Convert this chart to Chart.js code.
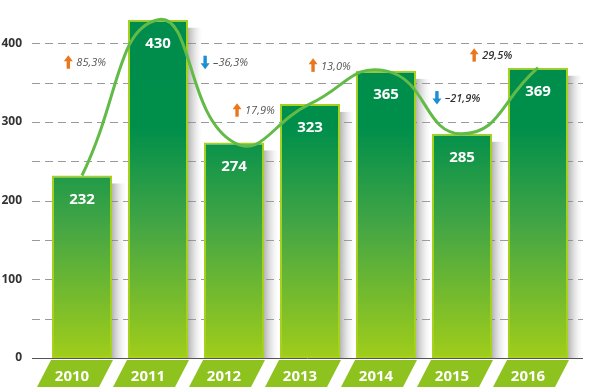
<!DOCTYPE html>
<html>
<head>
<meta charset="utf-8">
<script src="https://cdn.jsdelivr.net/npm/chart.js@4"></script>
<style>
  body { margin: 0; background: #fff; }
  #wrap { width: 600px; height: 387px; }
</style>
</head>
<body>
<div id="wrap"><canvas id="chart"></canvas></div>
<script>
const years = ['2010', '2011', '2012', '2013', '2014', '2015', '2016'];
const values = [232, 430, 274, 323, 365, 285, 369];
const changes = ['85,3%', '–36,3%', '17,9%', '13,0%', '–21,9%', '29,5%'];
const changeUp = [true, false, true, true, false, true];
// where each change label sits: [category index, value]
const changeAt = [[-0.18, 376], [1.62, 376], [2.04, 315], [3.04, 372], [4.67, 331], [5.16, 385]];
const changeBold = [false, false, false, false, true, true];

const FONT = '"Open Sans", sans-serif';

const backdrop = {
  id: 'backdrop',
  beforeDraw(chart) {
    const {ctx, chartArea, scales: {x, y}} = chart;
    const bottom = y.getPixelForValue(0);
    ctx.save();

    // dashed grid
    ctx.strokeStyle = '#9a9a9a';
    ctx.lineWidth = 1;
    ctx.setLineDash([8, 5]);
    for (let v = 50; v <= 400; v += 50) {
      const py = Math.round(y.getPixelForValue(v)) + 0.5;
      ctx.beginPath();
      ctx.moveTo(32, py);
      ctx.lineTo(583, py);
      ctx.stroke();
    }
    ctx.setLineDash([]);

    // shadows right of bars
    chart.getDatasetMeta(1).data.forEach(bar => {
      const right = bar.x + bar.width / 2;
      const g = ctx.createLinearGradient(right, 0, right + 14, 0);
      g.addColorStop(0, 'rgba(120,120,120,0.55)');
      g.addColorStop(1, 'rgba(200,200,200,0)');
      ctx.fillStyle = g;
      ctx.fillRect(right, bar.y + 8, 14, bottom - bar.y - 8);
    });

    // axis line
    ctx.strokeStyle = '#555';
    ctx.beginPath();
    ctx.moveTo(32, bottom + 0.5);
    ctx.lineTo(583, bottom + 0.5);
    ctx.stroke();

    // slanted label plates
    ctx.fillStyle = '#8dc21f';
    years.forEach((_, i) => {
      const c = x.getPixelForValue(i);
      const t = bottom + 2, b = chart.height;
      ctx.beginPath();
      ctx.moveTo(c - 31, t);
      ctx.lineTo(c + 31, t);
      ctx.lineTo(c + 17, b);
      ctx.lineTo(c - 45, b);
      ctx.closePath();
      ctx.fill();
    });
    ctx.restore();
  }
};

const labels = {
  id: 'labels',
  afterDatasetsDraw(chart) {
    const {ctx, scales: {x, y}} = chart;
    ctx.save();
    ctx.fillStyle = '#fff';
    ctx.font = 'bold 15px ' + FONT;
    ctx.textAlign = 'center';
    ctx.textBaseline = 'middle';
    chart.getDatasetMeta(1).data.forEach((bar, i) => {
      ctx.fillText(values[i], bar.x, bar.y + 24);
    });

    changes.forEach((txt, i) => {
      const ax = x.getPixelForValue(changeAt[i][0]);
      const ay = y.getPixelForValue(changeAt[i][1]);
      ctx.fillStyle = changeUp[i] ? '#e8771e' : '#1b8fd2';
      ctx.beginPath();
      if (changeUp[i]) {
        ctx.moveTo(ax - 4.5, ay - 1);
        ctx.lineTo(ax, ay - 7);
        ctx.lineTo(ax + 4.5, ay - 1);
        ctx.closePath();
        ctx.fill();
        ctx.fillRect(ax - 1.7, ay - 1.5, 3.4, 8);
      } else {
        ctx.moveTo(ax - 4.5, ay + 1);
        ctx.lineTo(ax, ay + 7);
        ctx.lineTo(ax + 4.5, ay + 1);
        ctx.closePath();
        ctx.fill();
        ctx.fillRect(ax - 1.7, ay - 6.5, 3.4, 8);
      }
      ctx.fillStyle = changeBold[i] ? '#333' : '#555';
      ctx.font = (changeBold[i] ? 'italic 600 ' : 'italic ') + '11px ' + FONT;
      ctx.textAlign = 'left';
      ctx.fillText(txt, ax + 8, ay + 1);
    });
    ctx.restore();
  }
};

function barFill(context) {
  const chart = context.chart;
  const {ctx, chartArea} = chart;
  if (!chartArea) return '#2a9a48';
  const g = ctx.createLinearGradient(0, chartArea.top, 0, chartArea.bottom);
  g.addColorStop(0, '#008b4c');
  g.addColorStop(0.35, '#008f4b');
  g.addColorStop(0.62, '#42a545');
  g.addColorStop(1, '#a0cd1a');
  return g;
}

new Chart(document.getElementById('chart'), {
  data: {
    labels: years,
    datasets: [{
      type: 'line',
      data: values,
      borderColor: '#62bb47',
      borderWidth: 3,
      pointRadius: 0,
      tension: 0.5,
      order: 0
    }, {
      type: 'bar',
      data: values,
      backgroundColor: barFill,
      borderColor: '#a6d11c',
      borderWidth: 2,
      borderSkipped: false,
      barPercentage: 0.79,
      categoryPercentage: 1,
      order: 1
    }]
  },
  options: {
    responsive: true,
    maintainAspectRatio: false,
    animation: false,
    layout: { padding: { top: 4, right: 24, left: 0, bottom: 0 } },
    plugins: { legend: { display: false }, tooltip: { enabled: false } },
    scales: {
      x: {
        offset: true,
        grid: { display: false },
        border: { display: false },
        afterFit(scale) { scale.height = 29; },
        ticks: {
          color: '#fff',
          font: { family: FONT, weight: 'bold', size: 15 },
          padding: 2,
          labelOffset: -10,
          maxRotation: 0
        }
      },
      y: {
        min: 0,
        max: 450,
        grid: { display: false, drawTicks: false },
        border: { display: false },
        afterFit(scale) {
          scale.width = 44;
          scale.paddingTop = 0;
          scale.paddingBottom = 0;
        },
        ticks: {
          stepSize: 50,
          padding: 22,
          color: '#333',
          font: { family: FONT, weight: 'bold', size: 12 },
          callback: v => (v % 100 === 0 ? v : '')
        }
      }
    }
  },
  plugins: [backdrop, labels]
});
</script>
</body>
</html>
